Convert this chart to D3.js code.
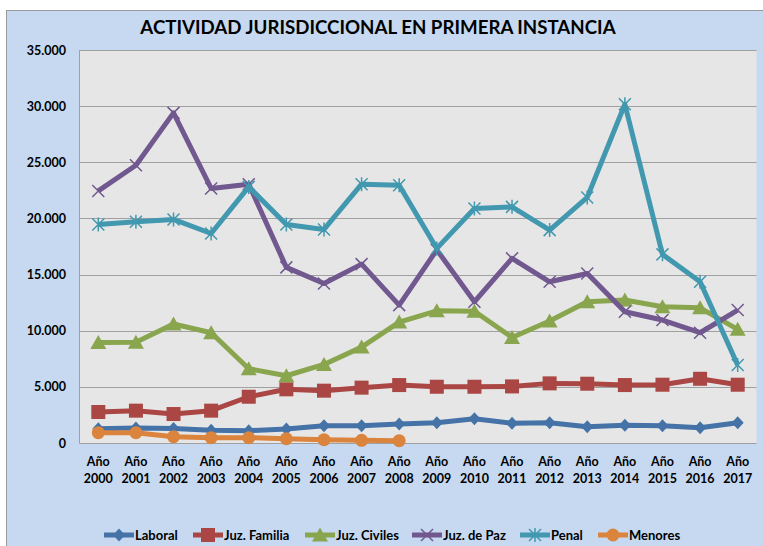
<!DOCTYPE html>
<html>
<head>
<meta charset="utf-8">
<script src="https://cdn.jsdelivr.net/npm/d3@7"></script>
<style>
  body { margin: 0; background: #ffffff; }
  svg { display: block; }
</style>
</head>
<body>
<div id="chart"></div>
<script>
var years = ["2000", "2001", "2002", "2003", "2004", "2005", "2006", "2007", "2008",
  "2009", "2010", "2011", "2012", "2013", "2014", "2015", "2016", "2017"];
var laboral = [1270, 1330, 1300, 1130, 1100, 1250, 1540, 1540, 1690, 1800, 2160, 1750, 1800, 1450, 1570, 1540, 1360, 1800];
var juzFamilia = [2760, 2880, 2580, 2880, 4120, 4780, 4660, 4930, 5160, 5010, 5010, 5040, 5310, 5280, 5160, 5190, 5720, 5190];
var juzCiviles = [8960, 8980, 10600, 9820, 6610, 5990, 7000, 8540, 10770, 11770, 11740, 9400, 10860, 12580, 12730, 12140, 12040, 10120];
var juzPaz = [22450, 24740, 29400, 22670, 23050, 15640, 14210, 15930, 12280, 17200, 12580, 16440, 14360, 15100, 11690, 10950, 9820, 11840];
var penal = [19460, 19700, 19910, 18660, 22810, 19460, 19020, 23050, 22960, 17330, 20890, 21030, 18960, 21870, 30170, 16800, 14360, 6940];
var menores = [920, 920, 560, 470, 470, 380, 300, 240, 210, null, null, null, null, null, null, null, null, null];
var yTicks = [0, 5000, 10000, 15000, 20000, 25000, 30000, 35000];

var series = [
  { name: "Laboral", values: laboral, color: "#4572A7", marker: "diamond" },
  { name: "Juz. Familia", values: juzFamilia, color: "#AA4643", marker: "square" },
  { name: "Juz. Civiles", values: juzCiviles, color: "#89A54E", marker: "triangle" },
  { name: "Juz. de Paz", values: juzPaz, color: "#71588F", marker: "cross" },
  { name: "Penal", values: penal, color: "#4198AF", marker: "star" },
  { name: "Menores", values: menores, color: "#DB843D", marker: "circle" }
];

var W = 763, H = 546;
var font = "Lato, 'Open Sans', sans-serif";
var svg = d3.select("#chart").append("svg").attr("width", W).attr("height", H);

// outer chart area
svg.append("rect").attr("x", 6.5).attr("y", 10.5).attr("width", W).attr("height", H)
  .attr("fill", "#C6D9F0").attr("stroke", "#9a9a9a").attr("stroke-width", 1);

var plotL = 79.5, plotR = 756.5, plotT = 50, plotB = 443;

var x = d3.scaleBand().domain(years).range([plotL, plotR]);
var y = d3.scaleLinear().domain([0, 35000]).range([plotB, plotT]);

svg.append("rect").attr("x", plotL).attr("y", plotT).attr("width", plotR - plotL).attr("height", plotB - plotT)
  .attr("fill", "#E6E6E6");

svg.selectAll("line.grid").data(yTicks).enter().append("line")
  .attr("class", "grid")
  .attr("x1", plotL).attr("x2", plotR)
  .attr("y1", function(d) { return Math.round(y(d)) + 0.5; })
  .attr("y2", function(d) { return Math.round(y(d)) + 0.5; })
  .attr("stroke", "#a0a0a0").attr("stroke-width", 1);

svg.append("line").attr("x1", plotL).attr("x2", plotL).attr("y1", plotT).attr("y2", plotB + 0.5)
  .attr("stroke", "#a0a0a0");

// y labels
var fmt = function(d) { return d === 0 ? "0" : d3.format(",")(d).replace(/,/g, "."); };
svg.selectAll("text.ytick").data(yTicks).enter().append("text")
  .attr("class", "ytick")
  .attr("x", 66).attr("y", function(d) { return y(d) + 4.5; })
  .attr("text-anchor", "end")
  .attr("font-family", font).attr("font-weight", "bold").attr("font-size", 12.5)
  .attr("fill", "#000")
  .text(fmt);

// x labels
var xl = svg.selectAll("text.xtick").data(years).enter().append("text")
  .attr("class", "xtick")
  .attr("text-anchor", "middle")
  .attr("font-family", font).attr("font-weight", "bold").attr("font-size", 12.5)
  .attr("fill", "#000");
xl.append("tspan").attr("x", function(d) { return x(d) + x.bandwidth() / 2; }).attr("y", 466).text("Año");
xl.append("tspan").attr("x", function(d) { return x(d) + x.bandwidth() / 2; }).attr("y", 483).text(function(d) { return d; });

// title
svg.append("text").attr("x", 378).attr("y", 34)
  .attr("text-anchor", "middle")
  .attr("font-family", font).attr("font-weight", "bold").attr("font-size", 18.7)
  .attr("fill", "#000")
  .text("ACTIVIDAD JURISDICCIONAL EN PRIMERA INSTANCIA");

function drawMarker(g, type, color, cx, cy) {
  if (type === "diamond") {
    g.append("path").attr("d", "M" + cx + "," + (cy - 6.5) + "L" + (cx + 6) + "," + cy + "L" + cx + "," + (cy + 6.5) + "L" + (cx - 6) + "," + cy + "Z")
      .attr("fill", color);
  } else if (type === "square") {
    g.append("rect").attr("x", cx - 7).attr("y", cy - 7).attr("width", 14).attr("height", 14).attr("fill", color);
  } else if (type === "triangle") {
    g.append("path").attr("d", "M" + cx + "," + (cy - 7.5) + "L" + (cx + 8) + "," + (cy + 6.5) + "L" + (cx - 8) + "," + (cy + 6.5) + "Z")
      .attr("fill", color);
  } else if (type === "cross") {
    g.append("path").attr("d", "M" + (cx - 6) + "," + (cy - 6) + "L" + (cx + 6) + "," + (cy + 6) + "M" + (cx + 6) + "," + (cy - 6) + "L" + (cx - 6) + "," + (cy + 6))
      .attr("stroke", color).attr("stroke-width", 1.5);
  } else if (type === "star") {
    g.append("path").attr("d", "M" + (cx - 6) + "," + (cy - 6) + "L" + (cx + 6) + "," + (cy + 6) + "M" + (cx + 6) + "," + (cy - 6) + "L" + (cx - 6) + "," + (cy + 6) + "M" + cx + "," + (cy - 7) + "L" + cx + "," + (cy + 7))
      .attr("stroke", color).attr("stroke-width", 1.5);
  } else if (type === "circle") {
    g.append("circle").attr("cx", cx).attr("cy", cy).attr("r", 6.5).attr("fill", color);
  }
}

var line = d3.line()
  .defined(function(d) { return d != null; })
  .x(function(d, i) { return x(years[i]) + x.bandwidth() / 2; })
  .y(function(d) { return y(d); });

series.forEach(function(s) {
  var g = svg.append("g");
  g.append("path").attr("d", line(s.values))
    .attr("fill", "none").attr("stroke", s.color).attr("stroke-width", 5)
    .attr("stroke-linejoin", "round");
  s.values.forEach(function(v, i) {
    if (v == null) return;
    drawMarker(g, s.marker, s.color, x(years[i]) + x.bandwidth() / 2, y(v));
  });
});

// legend
var legendX = [104, 193, 305, 412, 520, 598];
series.forEach(function(s, i) {
  var g = svg.append("g");
  var lx = legendX[i], ly = 535;
  g.append("line").attr("x1", lx).attr("x2", lx + 30).attr("y1", ly).attr("y2", ly)
    .attr("stroke", s.color).attr("stroke-width", 5);
  drawMarker(g, s.marker, s.color, lx + 15, ly);
  g.append("text").attr("x", lx + 31).attr("y", ly + 4.5)
    .attr("font-family", font).attr("font-weight", "bold").attr("font-size", 13)
    .attr("fill", "#000").text(s.name);
});
</script>
</body>
</html>
